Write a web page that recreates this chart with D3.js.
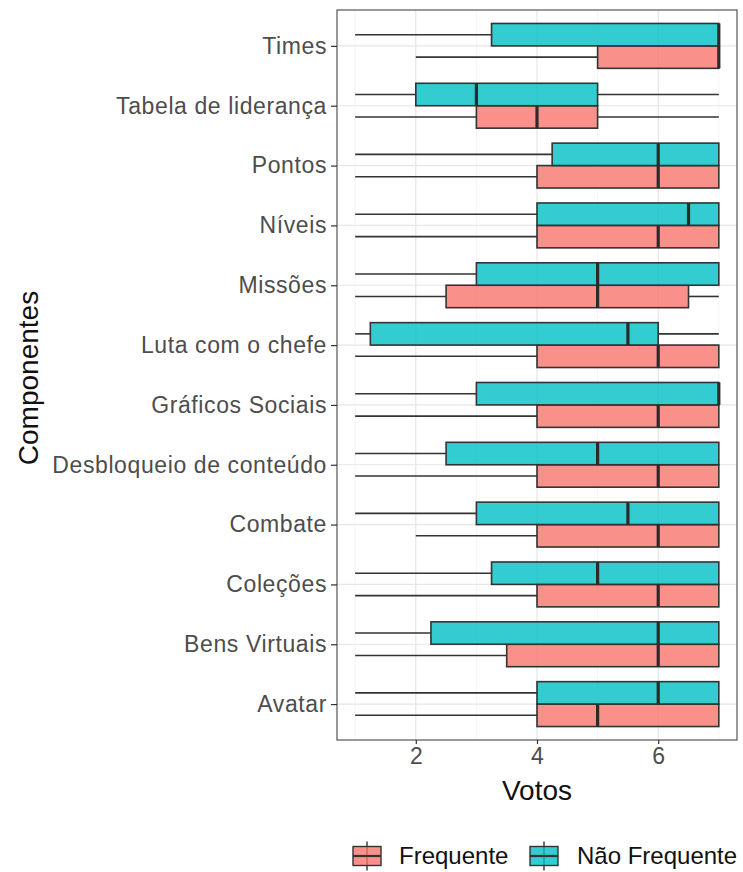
<!DOCTYPE html>
<html>
<head>
<meta charset="utf-8">
<script src="https://cdn.jsdelivr.net/npm/d3@7"></script>
<style>
  html, body { margin: 0; padding: 0; background: #fff; }
  svg { display: block; font-family: "Liberation Sans", Arial, sans-serif; }
</style>
</head>
<body>
<svg id="chart" width="743" height="872"></svg>
<script>
// Components, listed bottom to top
const componentes = ["Avatar", "Bens Virtuais", "Coleções", "Combate",
  "Desbloqueio de conteúdo", "Gráficos Sociais", "Luta com o chefe", "Missões",
  "Níveis", "Pontos", "Tabela de liderança", "Times"];

// Frequente: five-number summaries
const freqMin    = [1, 1,   1, 2, 1, 1, 1, 1,   1, 1, 1, 2];
const freqQ1     = [4, 3.5, 4, 4, 4, 4, 4, 2.5, 4, 4, 3, 5];
const freqMedian = [5, 6,   6, 6, 6, 6, 6, 5,   6, 6, 4, 7];
const freqQ3     = [7, 7,   7, 7, 7, 7, 7, 6.5, 7, 7, 5, 7];
const freqMax    = [7, 7,   7, 7, 7, 7, 7, 7,   7, 7, 7, 7];

// Não Frequente: five-number summaries
const nfMin    = [1, 1,    1,    1,   1,   1, 1,    1, 1,   1,    1, 1];
const nfQ1     = [4, 2.25, 3.25, 3,   2.5, 3, 1.25, 3, 4,   4.25, 2, 3.25];
const nfMedian = [6, 6,    5,    5.5, 5,   7, 5.5,  5, 6.5, 6,    3, 7];
const nfQ3     = [7, 7,    7,    7,   7,   7, 6,    7, 7,   7,    5, 7];
const nfMax    = [7, 7,    7,    7,   7,   7, 7,    7, 7,   7,    7, 7];

const xTicks = [2, 4, 6];
const groups = ["Frequente", "Não Frequente"];
const colors = ["#F8766D", "#00BFC4"];

const svg = d3.select("#chart");
const panel = { left: 337, right: 737, top: 10, bottom: 740 };

const x = d3.scaleLinear().domain([0.7, 7.3]).range([panel.left, panel.right]);
const y = d3.scalePoint().domain(componentes).range([panel.bottom, panel.top]).padding(0.6);
const step = y.step();
const boxH = step * 0.75 / 2;

const color = d3.scaleOrdinal().domain(groups).range(colors);

// Build rows for drawing
const rows = [];
componentes.forEach((c, i) => {
  rows.push({ comp: c, group: "Frequente", lo: freqMin[i], q1: freqQ1[i], med: freqMedian[i], q3: freqQ3[i], hi: freqMax[i] });
  rows.push({ comp: c, group: "Não Frequente", lo: nfMin[i], q1: nfQ1[i], med: nfMedian[i], q3: nfQ3[i], hi: nfMax[i] });
});
// Frequente sits below the category line, Não Frequente above
const centerY = d => y(d.comp) + (d.group === "Frequente" ? boxH / 2 : -boxH / 2);

// Grid
const grid = svg.append("g");
const minor = [1, 3, 5, 7];
grid.selectAll("line.minor").data(minor).join("line")
  .attr("x1", d => x(d)).attr("x2", d => x(d))
  .attr("y1", panel.top).attr("y2", panel.bottom)
  .attr("stroke", "#f2f2f2").attr("stroke-width", 0.8);
grid.selectAll("line.vmajor").data(xTicks).join("line")
  .attr("x1", d => x(d)).attr("x2", d => x(d))
  .attr("y1", panel.top).attr("y2", panel.bottom)
  .attr("stroke", "#e6e6e6").attr("stroke-width", 1.2);
grid.selectAll("line.hmajor").data(componentes).join("line")
  .attr("x1", panel.left).attr("x2", panel.right)
  .attr("y1", d => y(d)).attr("y2", d => y(d))
  .attr("stroke", "#e6e6e6").attr("stroke-width", 1.2);

// Boxplots
const bp = svg.append("g");
const stroke = "#333333";
// whiskers
bp.selectAll("line.wl").data(rows).join("line")
  .attr("x1", d => x(d.lo)).attr("x2", d => x(d.q1))
  .attr("y1", centerY).attr("y2", centerY)
  .attr("stroke", stroke).attr("stroke-width", 1.6);
bp.selectAll("line.wh").data(rows).join("line")
  .attr("x1", d => x(d.q3)).attr("x2", d => x(d.hi))
  .attr("y1", centerY).attr("y2", centerY)
  .attr("stroke", stroke).attr("stroke-width", 1.6);
// boxes
bp.selectAll("rect.box").data(rows).join("rect")
  .attr("x", d => x(d.q1))
  .attr("width", d => Math.max(0, x(d.q3) - x(d.q1)))
  .attr("y", d => centerY(d) - boxH / 2)
  .attr("height", boxH)
  .attr("fill", d => color(d.group))
  .attr("fill-opacity", 0.8)
  .attr("stroke", stroke).attr("stroke-width", 1.6);
// medians
bp.selectAll("line.med").data(rows).join("line")
  .attr("x1", d => x(d.med)).attr("x2", d => x(d.med))
  .attr("y1", d => centerY(d) - boxH / 2).attr("y2", d => centerY(d) + boxH / 2)
  .attr("stroke", "#2b2b2b").attr("stroke-width", 3.2);

// Panel border
svg.append("rect")
  .attr("x", panel.left).attr("y", panel.top)
  .attr("width", panel.right - panel.left).attr("height", panel.bottom - panel.top)
  .attr("fill", "none").attr("stroke", "#555").attr("stroke-width", 1.2);

// X axis
const xAxis = svg.append("g")
  .attr("transform", `translate(0,${panel.bottom})`)
  .call(d3.axisBottom(x).tickValues(xTicks).tickSize(4).tickPadding(4).tickFormat(d3.format("d")));
xAxis.select(".domain").remove();
xAxis.selectAll(".tick line").attr("stroke", "#333").attr("stroke-width", 1.2);
xAxis.selectAll(".tick text").attr("fill", "#4d4d4d").attr("font-size", 23)
  .attr("font-family", "Liberation Sans, Arial, sans-serif");

// Y axis
const yAxis = svg.append("g")
  .attr("transform", `translate(${panel.left},0)`)
  .call(d3.axisLeft(y).tickSize(6).tickPadding(4));
yAxis.select(".domain").remove();
yAxis.selectAll(".tick line").attr("stroke", "#333").attr("stroke-width", 1.2);
yAxis.selectAll(".tick text").attr("fill", "#4d4d4d").attr("font-size", 23)
  .attr("letter-spacing", "0.6px")
  .attr("font-family", "Liberation Sans, Arial, sans-serif");

// Axis titles
svg.append("text")
  .attr("x", (panel.left + panel.right) / 2).attr("y", 800)
  .attr("text-anchor", "middle").attr("font-size", 28).attr("fill", "#111")
  .text("Votos");
svg.append("text")
  .attr("transform", `translate(38,${(panel.top + panel.bottom) / 2 + 3}) rotate(-90)`)
  .attr("text-anchor", "middle").attr("font-size", 28).attr("fill", "#111")
  .text("Componentes");

// Legend
const legendItems = [
  { group: "Frequente", kx: 353, tx: 399 },
  { group: "Não Frequente", kx: 530, tx: 577 }
];
const keyW = 28, keyH = 19, keyCy = 856;
const lg = svg.append("g");
legendItems.forEach(it => {
  const g = lg.append("g");
  const cx = it.kx + keyW / 2;
  g.append("line").attr("x1", cx).attr("x2", cx)
    .attr("y1", keyCy - keyH / 2 - 5).attr("y2", keyCy + keyH / 2 + 5)
    .attr("stroke", stroke).attr("stroke-width", 1.4);
  g.append("rect").attr("x", it.kx).attr("y", keyCy - keyH / 2)
    .attr("width", keyW).attr("height", keyH)
    .attr("fill", color(it.group)).attr("fill-opacity", 0.8)
    .attr("stroke", stroke).attr("stroke-width", 1.4);
  g.append("line").attr("x1", it.kx).attr("x2", it.kx + keyW)
    .attr("y1", keyCy).attr("y2", keyCy)
    .attr("stroke", stroke).attr("stroke-width", 2.2);
  g.append("text").attr("x", it.tx).attr("y", keyCy + 8)
    .attr("font-size", 24).attr("fill", "#111").text(it.group);
});
</script>
</body>
</html>
